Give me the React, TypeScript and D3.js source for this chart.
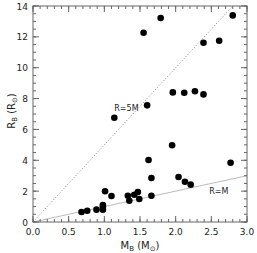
import React from 'react';
import * as d3 from 'd3';

// chart dimensions
const svgWidth = 257;
const svgHeight = 253;
const margin = { top: 6, right: 10, bottom: 31, left: 33 };
const frameColor = '#666';
const font = 'DejaVu Sans, sans-serif';

// binary data: companion mass (M_sun) and radius (R_sun)
const massB = [
  0.68, 0.76, 0.89, 0.98, 0.98, 0.98, 1.01, 1.10, 1.14, 1.33, 1.35, 1.42, 1.47, 1.49,
  1.55, 1.60, 1.62, 1.66, 1.66, 1.79, 1.95, 1.96, 2.04, 2.12, 2.13, 2.21, 2.27, 2.39,
  2.39, 2.61, 2.77, 2.80,
];
const radiusB = [
  0.65, 0.73, 0.80, 0.80, 1.00, 1.10, 1.99, 1.69, 6.76, 1.70, 1.38, 1.77, 1.94, 1.49,
  12.27, 7.56, 4.02, 2.85, 1.70, 13.22, 4.97, 8.40, 2.92, 8.38, 2.61, 2.42, 8.47, 8.27,
  11.62, 11.75, 3.84, 13.39,
];

const xTicks = [0, 0.5, 1, 1.5, 2, 2.5, 3];
const yTicks = [0, 2, 4, 6, 8, 10, 12, 14];

const App = () => {
  const x0 = margin.left;
  const x1 = svgWidth - margin.right;
  const y0 = svgHeight - margin.bottom;
  const y1 = margin.top;

  const xScale = d3.scaleLinear().domain([0, 3]).range([x0, x1]);
  const yScale = d3.scaleLinear().domain([0, 14]).range([y0, y1]);

  const xMinor = d3.range(0, 3.001, 0.1);
  const yMinor = d3.range(0, 14.001, 0.5);

  const line = d3.line<number[]>().x((d) => xScale(d[0])).y((d) => yScale(d[1]));

  return (
    <svg width={svgWidth} height={svgHeight} style={{ position: 'absolute', left: 0, top: 0 }}>
      <rect width={svgWidth} height={svgHeight} fill="#fff" />

      {/* relation lines */}
      <path d={line([[0, 0], [2.8, 14]]) || ''} stroke="#888" strokeWidth={1} strokeDasharray="1,2" fill="none" />
      <path d={line([[0, 0], [3, 3]]) || ''} stroke="#bbb" strokeWidth={1} fill="none" />

      {/* frame */}
      <rect x={x0} y={y1} width={x1 - x0} height={y0 - y1} fill="none" stroke={frameColor} strokeWidth={1} />

      {/* minor ticks */}
      {xMinor.map((v, i) => (
        <g key={'xm' + i} stroke={frameColor}>
          <line x1={xScale(v)} x2={xScale(v)} y1={y0} y2={y0 - 3} />
          <line x1={xScale(v)} x2={xScale(v)} y1={y1} y2={y1 + 3} />
        </g>
      ))}
      {yMinor.map((v, i) => (
        <g key={'ym' + i} stroke={frameColor}>
          <line x1={x0} x2={x0 + 3} y1={yScale(v)} y2={yScale(v)} />
          <line x1={x1} x2={x1 - 3} y1={yScale(v)} y2={yScale(v)} />
        </g>
      ))}

      {/* major ticks + labels */}
      {xTicks.map((v) => (
        <g key={'xt' + v}>
          <line x1={xScale(v)} x2={xScale(v)} y1={y0} y2={y0 - 6} stroke={frameColor} />
          <line x1={xScale(v)} x2={xScale(v)} y1={y1} y2={y1 + 6} stroke={frameColor} />
          <text x={xScale(v)} y={y0 + 13} textAnchor="middle" fontFamily={font} fontSize={9} fill="#222">
            {v.toFixed(1)}
          </text>
        </g>
      ))}
      {yTicks.map((v) => (
        <g key={'yt' + v}>
          <line x1={x0} x2={x0 + 6} y1={yScale(v)} y2={yScale(v)} stroke={frameColor} />
          <line x1={x1} x2={x1 - 6} y1={yScale(v)} y2={yScale(v)} stroke={frameColor} />
          <text x={x0 - 5} y={yScale(v) + 3.5} textAnchor="end" fontFamily={font} fontSize={9} fill="#222">
            {v}
          </text>
        </g>
      ))}

      {/* data points */}
      {massB.map((m, i) => (
        <circle key={i} cx={xScale(m)} cy={yScale(radiusB[i])} r={3.3} fill="#000" />
      ))}

      {/* line labels */}
      <text x={xScale(1.14)} y={yScale(7.2)} fontFamily={font} fontSize={8} fill="#222">R=5M</text>
      <text x={xScale(2.47)} y={yScale(1.8)} fontFamily={font} fontSize={8} fill="#222">R=M</text>

      {/* axis titles */}
      <text x={(x0 + x1) / 2} y={svgHeight - 4} textAnchor="middle" fontFamily={font} fontSize={10} fill="#222">
        M<tspan fontSize={7} dy={2}>B</tspan><tspan dy={-2}> (M</tspan><tspan fontSize={7} dy={2}>⊙</tspan><tspan dy={-2}>)</tspan>
      </text>
      <text
        transform={`translate(15,${(y0 + y1) / 2 - 3}) rotate(-90)`}
        textAnchor="middle"
        fontFamily={font}
        fontSize={10}
        fill="#222"
      >
        R<tspan fontSize={7} dy={2}>B</tspan><tspan dy={-2}> (R</tspan><tspan fontSize={7} dy={2}>⊙</tspan><tspan dy={-2}>)</tspan>
      </text>
    </svg>
  );
};

export default App;
